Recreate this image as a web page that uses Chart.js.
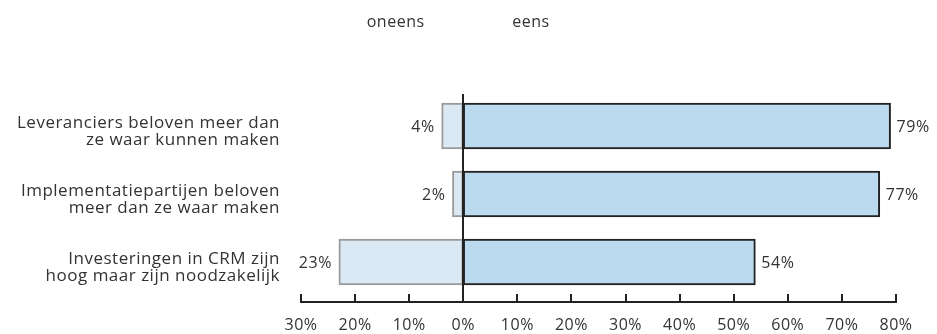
<!DOCTYPE html>
<html>
<head>
<meta charset="utf-8">
<script src="https://cdn.jsdelivr.net/npm/chart.js@4"></script>
<style>
  html, body { margin: 0; padding: 0; background: #fff; }
  #wrap { width: 937px; height: 334px; position: relative; }
</style>
</head>
<body>
<div id="wrap"><canvas id="chart"></canvas></div>
<script>
// Data
const categories = [
    ['Leveranciers beloven meer dan', 'ze waar kunnen maken'],
    ['Implementatiepartijen beloven', 'meer dan ze waar maken'],
    ['Investeringen in CRM zijn', 'hoog maar zijn noodzakelijk']
];
const oneens = [4, 2, 23];
const eens = [79, 77, 54];
const xTicks = [-30, -20, -10, 0, 10, 20, 30, 40, 50, 60, 70, 80];
const headers = [{ text: 'oneens', value: -12.5 }, { text: 'eens', value: 12.5 }];

const FONT = '"Open Sans", "Noto Sans", sans-serif';
const TEXT = '#333';
const SPACING = '0.5px';

// Litt bredere bokstavavstand, som i originalen
const spacingPlugin = {
    id: 'spacing',
    beforeLayout(chart) { chart.ctx.letterSpacing = SPACING; },
    beforeDraw(chart) { chart.ctx.letterSpacing = SPACING; }
};

// Akse, nullinje, overskrifter og verdier tegnes her
const extrasPlugin = {
    id: 'extras',
    afterDatasetsDraw(chart) {
        const ctx = chart.ctx;
        const x = chart.scales.x;
        const area = chart.chartArea;
        const axisY = area.bottom + 6;

        ctx.save();
        ctx.strokeStyle = '#222';
        ctx.lineWidth = 2;
        // x-akse med tick-streker oppover
        ctx.beginPath();
        ctx.moveTo(x.getPixelForValue(xTicks[0]) - 1, axisY);
        ctx.lineTo(x.getPixelForValue(xTicks[xTicks.length - 1]) + 1, axisY);
        xTicks.forEach(t => {
            const px = Math.round(x.getPixelForValue(t));
            ctx.moveTo(px, axisY);
            ctx.lineTo(px, axisY - 8);
        });
        ctx.stroke();
        // nullinje
        const zx = Math.round(x.getPixelForValue(0));
        ctx.beginPath();
        ctx.moveTo(zx, area.top + 2);
        ctx.lineTo(zx, axisY);
        ctx.stroke();

        // overskrifter
        ctx.fillStyle = TEXT;
        ctx.font = '16px ' + FONT;
        ctx.textAlign = 'center';
        ctx.textBaseline = 'middle';
        headers.forEach(h => ctx.fillText(h.text, x.getPixelForValue(h.value), 22));

        // verdietiketter
        chart.data.datasets.forEach((ds, di) => {
            const meta = chart.getDatasetMeta(di);
            meta.data.forEach((bar, i) => {
                const v = Math.abs(ds.data[i]);
                if (ds.data[i] < 0) {
                    ctx.textAlign = 'right';
                    ctx.fillText(v + '%', bar.x - 7, bar.y + 1);
                } else {
                    ctx.textAlign = 'left';
                    ctx.fillText(v + '%', bar.x + 6, bar.y + 1);
                }
            });
        });
        ctx.restore();
    }
};

new Chart(document.getElementById('chart'), {
    type: 'bar',
    data: {
        labels: categories,
        datasets: [
            {
                label: 'oneens',
                data: oneens.map(v => -v),
                backgroundColor: '#dbe9f5',
                borderColor: '#9b9b9b',
                borderWidth: 2,
                borderSkipped: false,
                barThickness: 46
            },
            {
                label: 'eens',
                data: eens,
                backgroundColor: '#bcdaee',
                borderColor: '#222',
                borderWidth: 2,
                borderSkipped: false,
                barThickness: 46
            }
        ]
    },
    options: {
        indexAxis: 'y',
        responsive: true,
        maintainAspectRatio: false,
        animation: false,
        layout: { padding: { top: 92, right: 41, left: 0, bottom: 0 } },
        scales: {
            x: {
                stacked: true,
                min: -30,
                max: 80,
                grid: { display: false },
                border: { display: false },
                afterBuildTicks: scale => { scale.ticks = xTicks.map(v => ({ value: v })); },
                afterFit: scale => { scale.height = 38; },
                ticks: {
                    color: TEXT,
                    font: { family: FONT, size: 16 },
                    padding: 12,
                    maxRotation: 0,
                    callback: v => Math.abs(v) + '%'
                }
            },
            y: {
                stacked: true,
                grid: { display: false, drawTicks: false },
                border: { display: false },
                afterFit: scale => { scale.width = 301; },
                ticks: {
                    color: TEXT,
                    font: { family: FONT, size: 17, lineHeight: 1.0 },
                    padding: 21,
                    labelOffset: 6
                }
            }
        },
        plugins: {
            legend: { display: false },
            tooltip: { enabled: false }
        }
    },
    plugins: [spacingPlugin, extrasPlugin]
});
</script>
</body>
</html>
